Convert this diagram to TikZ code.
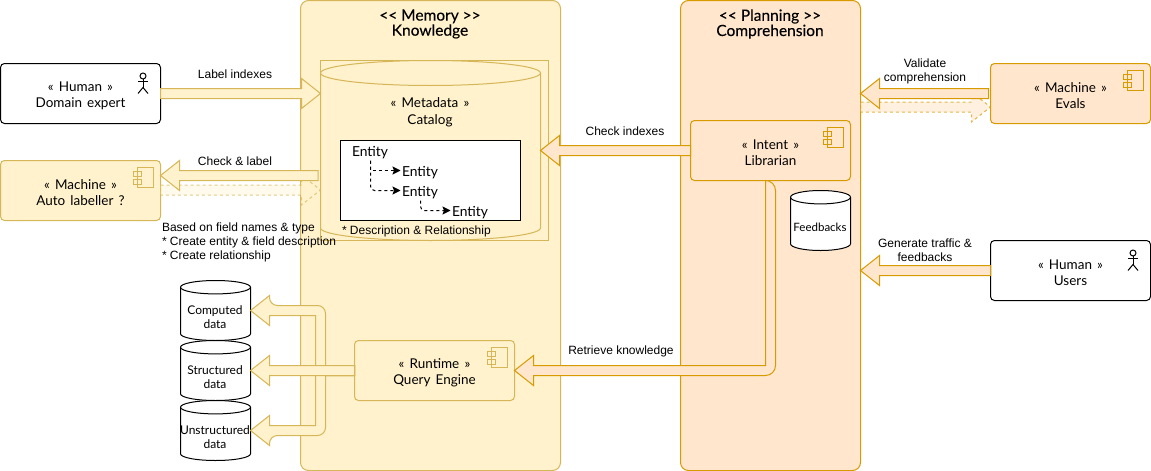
\documentclass[tikz,border=0pt]{standalone}
\usepackage{fontspec}
\setmainfont{Liberation Sans}
\newfontfamily\boxfont[WordSpace=1.5]{Lato}
\newfontfamily\titlefont[FakeBold=0.15]{Lato}
\usetikzlibrary{positioning}
\usetikzlibrary{calc}
\usetikzlibrary{arrows.meta}
\definecolor{memfill}{HTML}{FFF2CC}
\definecolor{memline}{HTML}{D6B656}
\definecolor{planfill}{HTML}{FFE6CC}
\definecolor{planline}{HTML}{D79B00}

% pushes the two lines of a box label down a little
\newcommand{\topgap}{\rule{0pt}{14pt}}
% straight block arrow, tip on the x of #3
\newcommand{\blockarrow}[3]{
  \draw[#1] let \p1=(#2), \p2=(#3), \n1={ifthenelse(\x2>\x1,1,-1)} in
    (\x1,\y1+5pt) -- (\x2-\n1*19pt,\y1+5pt) -- (\x2-\n1*19pt,\y1+15pt) -- (\x2,\y1)
    -- (\x2-\n1*19pt,\y1-15pt) -- (\x2-\n1*19pt,\y1-5pt) -- (\x1,\y1-5pt) -- cycle;
}
% block arrow going left, bent twice through the x of #3, #5 is 1 for up, -1 for down
\newcommand{\busarrow}[5]{
  \draw[#1] let \p1=(#2), \p2=(#4), \p3=(#3), \n1={#5} in
    (\x1,\y1+\n1*5pt) -- (\x3+5pt,\y1+\n1*5pt) [rounded corners=8pt] -- (\x3+5pt,\y2+\n1*5pt)
    -- (\x2+19pt,\y2+\n1*5pt) [sharp corners] -- (\x2+19pt,\y2+\n1*15pt) -- (\x2,\y2)
    -- (\x2+19pt,\y2-\n1*15pt) -- (\x2+19pt,\y2-\n1*5pt) -- (\x3-5pt,\y2-\n1*5pt)
    -- (\x3-5pt,\y1-\n1*5pt) -- (\x1,\y1-\n1*5pt) -- cycle;
}
% barrel: name, colours, top left corner, x radius, height, y radius
\newcommand{\barrel}[6]{
  \node [rectangle, anchor=north west, inner sep=0pt, minimum width={2*#4}, minimum height=#5] (#1) at (#3) {};
  \draw [#2] ($(#1.north west)+(0,#6)$) arc [start angle=180, end angle=0, x radius=#4pt, y radius=#6pt]
    -- ($(#1.south east)+(0,-#6)$) arc [start angle=0, end angle=-180, x radius=#4pt, y radius=#6pt] -- cycle;
  \draw [#2, fill=none] ($(#1.north west)+(0,#6)$) arc [start angle=180, end angle=360, x radius=#4pt, y radius=#6pt];
}
% component icon in the upper right corner of node #1
\newcommand{\componenticon}[2]{
  \draw[#2] ($(#1.north east)+(-23,7)$) rectangle ($(#1.north east)+(-7,27)$);
  \draw[#2] ($(#1.north east)+(-27.5,11)$) rectangle ($(#1.north east)+(-19,15.5)$);
  \draw[#2] ($(#1.north east)+(-27.5,19)$) rectangle ($(#1.north east)+(-19,23.5)$);
}
% stick figure in the upper right corner of node #1
\newcommand{\actoricon}[1]{
  \draw[black] ($(#1.north east)+(-17.5,12.5)$) circle (3);
  \draw[black] ($(#1.north east)+(-17.5,15.5)$) -- ($(#1.north east)+(-17.5,24)$);
  \draw[black] ($(#1.north east)+(-22.5,17.5)$) -- ($(#1.north east)+(-12.5,17.5)$);
  \draw[black] ($(#1.north east)+(-22.5,30)$) -- ($(#1.north east)+(-17.5,24)$) -- ($(#1.north east)+(-12.5,30)$);
}

\begin{document}
\begin{tikzpicture}[x=1pt, y=-1pt, line width=1pt, every node/.style={outer sep=0pt}]
    \tikzstyle{panel}=[rectangle, rounded corners=8pt, anchor=north west, inner sep=0pt]
    \tikzstyle{actor}=[rectangle, rounded corners=4pt, minimum width=160pt, minimum height=60pt,
    anchor=north west, inner sep=0pt, align=center, font=\boxfont\fontsize{13.5}{16}\selectfont]
    \tikzstyle{barreltext}=[align=center, font=\boxfont\fontsize{12}{14}\selectfont]
    \tikzstyle{entity}=[anchor=west, inner sep=1.5pt, text width=37pt, align=left, text height=14pt, text depth=3pt,
    font=\boxfont\fontsize{13.8}{16}\selectfont]
    \tikzstyle{entline}=[black, dashed, -{Stealth[length=8pt, width=8pt, inset=1.5pt]}]
    \tikzstyle{title}=[align=center, font=\titlefont\fontsize{15.5}{14}\selectfont]
    \tikzstyle{caption}=[align=center, font=\fontsize{12}{14}\selectfont]
    \tikzstyle{memarrow}=[draw=memline, fill=memfill]
    \tikzstyle{planarrow}=[draw=planline, fill=planfill]
    \tikzstyle{whitebarrel}=[draw=black, fill=white]
    \tikzstyle{memdashed}=[draw=memline, fill=memfill, dashed, draw opacity=.7, fill opacity=.4]
    \tikzstyle{plandashed}=[draw=planline, fill=planfill, dashed, draw opacity=.7, fill opacity=.6]

    \useasboundingbox (0, 0) rectangle (1151, 471);

    % Panels
    \node [panel, draw=memline, fill=memfill, minimum width=260pt, minimum height=470pt] (memory) at (300.5, 0.5) {};
    \node [panel, draw=planline, fill=planfill, minimum width=180pt, minimum height=470pt] (planning) at (680.5, 0.5) {};
    \node [title] (memtitle) at (430, 24) {<{}< Memory >{}>\\Knowledge};
    \node [title] (plantitle) at (770, 24) {<{}< Planning >{}>\\Comprehension};

    % Catalog frame and barrel
    \node [panel, rounded corners=0pt, draw=memline, minimum width=227.5pt, minimum height=180pt] (frame) at (320.5, 60.5) {};
    \barrel{catalog}{memarrow}{320.5, 60.5}{110}{180}{12.5}
    \node [align=center, font=\boxfont\fontsize{13.5}{17}\selectfont] (cattext) at (430, 112.5) {« Metadata »\\Catalog};

    % Entity tree
    \node [panel, rounded corners=0pt, draw=black, fill=white, minimum width=180pt, minimum height=80pt] (tree) at (340.5, 140.5) {};
    \node [entity] (ent0) at (350.5, 150.5) {Entity};
    \node [entity] (ent1) at (400.5, 170.5) {Entity};
    \node [entity] (ent2) at (400.5, 190.5) {Entity};
    \node [entity] (ent3) at (450.5, 210.5) {Entity};
    \draw [entline] (ent0.south) |- (ent1.west);
    \draw [entline, rounded corners=4pt] (ent0.south) |- (ent2.west);
    \draw [entline, rounded corners=4pt] (ent2.south) |- (ent3.west);
    \node [caption, anchor=west, inner sep=0pt] (entnote) at (342, 231) {* Description \& Relationship};

    % Humans and machines
    \node [actor, draw=black, fill=white] (expert) at (0.5, 63.5) {\topgap« Human »\\Domain expert};
    \actoricon{expert}
    \node [actor, draw=memline, fill=memfill] (labeller) at (0.5, 160.5) {\topgap« Machine »\\Auto labeller ?};
    \componenticon{labeller}{memline}
    \node [actor, draw=planline, fill=planfill] (evals) at (990.5, 63.5) {\topgap« Machine »\\Evals};
    \componenticon{evals}{planline}
    \node [actor, draw=black, fill=white] (users) at (990.5, 240.5) {\topgap« Human »\\Users};
    \actoricon{users}

    % Boxes inside the panels
    \node [actor, draw=planline, fill=planfill] (librarian) at (690.5, 120.5) {\topgap« Intent »\\Librarian};
    \componenticon{librarian}{planline}
    \node [actor, draw=memline, fill=memfill] (engine) at (354.5, 340.5) {\topgap« Runtime »\\Query Engine};
    \componenticon{engine}{memline}

    % Data stores
    \barrel{computed}{whitebarrel}{180.5, 280.5}{35}{60}{6.7}
    \node [barreltext] (computedtext) at (215, 317) {Computed\\data};
    \barrel{structured}{whitebarrel}{180.5, 340.5}{35}{60}{6.7}
    \node [barreltext] (structuredtext) at (215, 377) {Structured\\data};
    \barrel{unstructured}{whitebarrel}{180.5, 400.5}{35}{60}{6.7}
    \node [barreltext] (unstructuredtext) at (215, 437) {Unstructured\\data};
    \barrel{feedbacks}{whitebarrel}{790.5, 190.5}{30}{60}{6.7}
    \node [barreltext, font=\boxfont\fontsize{11.5}{14}\selectfont] (feedbackstext) at (820, 227) {Feedbacks};

    % Loose arrow ends
    \coordinate (checktail) at (318, 175.5);
    \coordinate (busline) at (320.5, 370);
    \coordinate (validtail) at (988.5, 93.5);
    \coordinate (autotail) at (160.5, 190);
    \coordinate (evaltail) at (860.5, 107);

    % Arrows on the left
    \blockarrow{memarrow}{expert.east}{frame.west}
    \blockarrow{memdashed}{autotail}{frame.west}
    \blockarrow{memarrow}{checktail}{labeller.east}
    \busarrow{memarrow}{engine.west}{busline}{computed.east}{1}
    \busarrow{memarrow}{engine.west}{busline}{unstructured.east}{-1}
    \blockarrow{memarrow}{engine.west}{structured.east}

    % Arrows on the right
    \blockarrow{planarrow}{librarian.west}{catalog.east}
    \blockarrow{plandashed}{evaltail}{evals.west}
    \blockarrow{planarrow}{validtail}{planning.east}
    \blockarrow{planarrow}{users.west}{planning.east}
    \draw [planarrow] let \p1=(librarian.south), \p2=(engine.east) in
      (\x1-5pt,\y1) -- (\x1-5pt,\y2+5pt) -- (\x2+19pt,\y2+5pt) -- (\x2+19pt,\y2+15pt) -- (\x2,\y2)
      -- (\x2+19pt,\y2-15pt) -- (\x2+19pt,\y2-5pt) [rounded corners=10pt] -- (\x1+5pt,\y2-5pt)
      -- (\x1+5pt,\y1) [sharp corners] -- cycle;

    % Arrow labels
    \node [caption] (labelidx) at (235, 74) {Label indexes};
    \node [caption] (checklabel) at (235, 161) {Check \& label};
    \node [caption, anchor=north west, inner sep=0pt, align=left] (basednote) at (162, 223) {Based on field names \& type\\* Create entity \& field description\\* Create relationship};
    \node [caption] (checkidx) at (625, 131) {Check indexes};
    \node [caption] (retrieve) at (621, 351) {Retrieve knowledge};
    \node [caption] (validate) at (925, 71) {Validate\\comprehension};
    \node [caption] (traffic) at (925, 250.5) {Generate traffic \&\\feedbacks};
\end{tikzpicture}
\end{document}
